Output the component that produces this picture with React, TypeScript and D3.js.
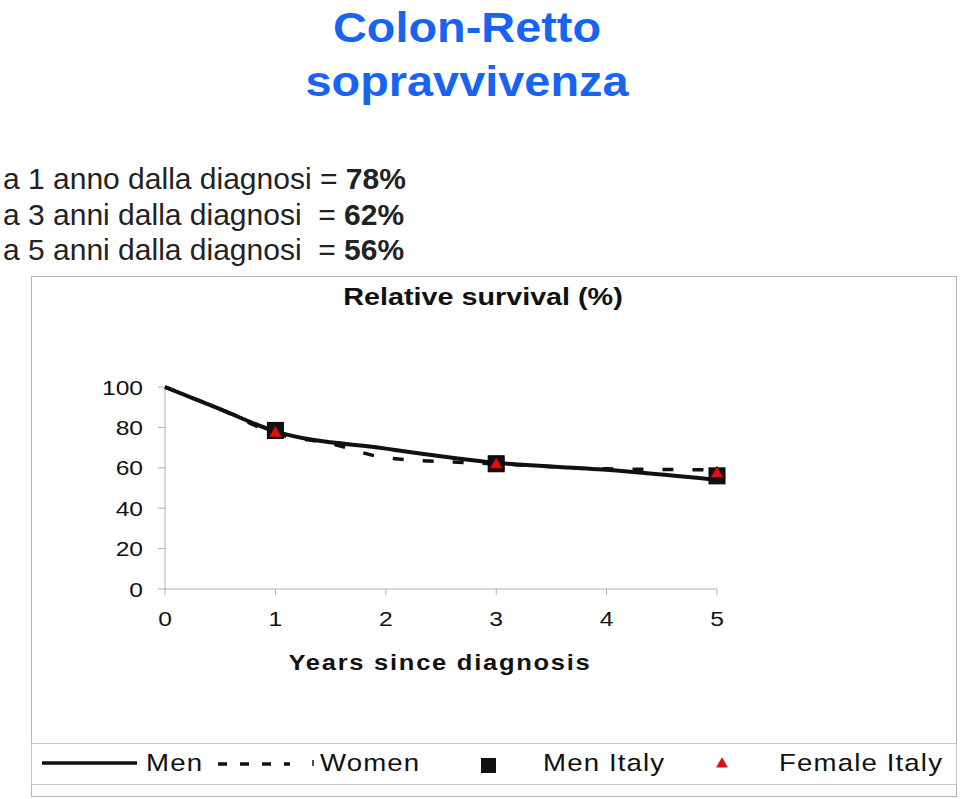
import React from "react";
import * as d3 from "d3";

const menYears = [0, 0.5, 1, 2, 3, 4, 5];
const menValues = [100, 89, 78, 69.5, 62.5, 59, 54];
const womenYears = [0, 0.5, 1, 1.5, 2, 3, 4, 5];
const womenValues = [100, 89, 77, 72, 65, 62, 59.5, 59];
const menItalyYears = [1, 3, 5];
const menItalyValues = [78.5, 62, 56];
const femaleItalyYears = [1, 3, 5];
const femaleItalyValues = [77.5, 62, 57.5];
const yTicks = [0, 20, 40, 60, 80, 100];
const xTicks = [0, 1, 2, 3, 4, 5];
const infoLines = [
  { label: "a 1 anno dalla diagnosi = ", value: "78%" },
  { label: "a 3 anni dalla diagnosi  = ", value: "62%" },
  { label: "a 5 anni dalla diagnosi  = ", value: "56%" },
];

const FONT = "'Liberation Sans', Arial, Helvetica, sans-serif";

function SText(props: {
  x: number;
  y: number;
  sx: number;
  size: number;
  anchor?: string;
  weight?: string;
  fill?: string;
  spacing?: number;
  children: React.ReactNode;
}) {
  return (
    <text
      transform={`translate(${props.x},${props.y}) scale(${props.sx},1)`}
      textAnchor={props.anchor || "start"}
      fontSize={props.size}
      fontWeight={props.weight || "normal"}
      fill={props.fill || "#111"}
      letterSpacing={props.spacing || 0}
    >
      {props.children}
    </text>
  );
}

export default function App() {
  const W = 960;
  const H = 799;
  const x = d3.scaleLinear().domain([0, 5]).range([165, 717]);
  const y = d3.scaleLinear().domain([0, 100]).range([589, 387]);
  const line = d3
    .line<[number, number]>()
    .x((d) => x(d[0]))
    .y((d) => y(d[1]))
    .curve(d3.curveMonotoneX);
  const menPts: [number, number][] = menYears.map((v, i) => [v, menValues[i]]);
  const womenPts: [number, number][] = womenYears.map((v, i) => [v, womenValues[i]]);
  const tri = d3.symbol().type(d3.symbolTriangle).size(75)() as string;
  const triLegend = d3.symbol().type(d3.symbolTriangle).size(60)() as string;
  const axisColor = "#b0b0b0";

  return (
    <svg
      width={W}
      height={H}
      style={{ position: "absolute", left: 0, top: 0, background: "#fff" }}
      fontFamily={FONT}
    >
      <rect x={0} y={0} width={W} height={H} fill="#fff" />
      {/* Titles */}
      <SText x={467} y={42} sx={1.09} size={43} anchor="middle" weight="bold" fill="#1763f2">
        Colon-Retto
      </SText>
      <SText x={467} y={96} sx={1.09} size={43} anchor="middle" weight="bold" fill="#1763f2">
        sopravvivenza
      </SText>
      {infoLines.map((l, i) => (
        <text key={i} x={3} y={189 + i * 35.5} fontSize={30} fill="#222" xmlSpace="preserve">
          {l.label}
          <tspan fontWeight="bold">{l.value}</tspan>
        </text>
      ))}

      {/* Chart frame */}
      <rect x={31.5} y={276.5} width={925} height={520} fill="none" stroke="#b5b5b5" strokeWidth={1} />
      <SText x={483} y={305} sx={1.25} size={23} anchor="middle" weight="bold">
        Relative survival (%)
      </SText>

      {/* Axes */}
      <line x1={x(0)} x2={x(0)} y1={y(100)} y2={y(0)} stroke={axisColor} />
      <line x1={x(0)} x2={x(5)} y1={y(0)} y2={y(0)} stroke={axisColor} />
      {yTicks.map((t) => (
        <g key={"y" + t}>
          <line x1={x(0) - 7} x2={x(0)} y1={y(t)} y2={y(t)} stroke={axisColor} />
          <SText x={143} y={y(t) + 7.5} sx={1.2} size={20.5} anchor="end">
            {t}
          </SText>
        </g>
      ))}
      {xTicks.map((t) => (
        <g key={"x" + t}>
          <line x1={x(t)} x2={x(t)} y1={y(0)} y2={y(0) + 6} stroke={axisColor} />
          <SText x={x(t)} y={626} sx={1.2} size={20.5} anchor="middle">
            {t}
          </SText>
        </g>
      ))}
      <SText x={440} y={670} sx={1.16} size={22} anchor="middle" weight="bold" spacing={1.5}>
        Years since diagnosis
      </SText>

      {/* Series */}
      <path d={line(womenPts) || ""} fill="none" stroke="#111" strokeWidth={3.5} strokeDasharray="11 19" />
      <path d={line(menPts) || ""} fill="none" stroke="#111" strokeWidth={4} />
      {menItalyYears.map((v, i) => (
        <rect
          key={"m" + i}
          x={x(v) - 8}
          y={y(menItalyValues[i]) - 8}
          width={16}
          height={16}
          fill="#111"
          stroke="#000"
        />
      ))}
      {femaleItalyYears.map((v, i) => (
        <path
          key={"f" + i}
          d={tri}
          transform={`translate(${x(v)},${y(femaleItalyValues[i]) + 1})`}
          fill="#e01010"
          stroke="#400"
          strokeWidth={0.8}
        />
      ))}

      {/* Legend */}
      <rect x={31.5} y={743.5} width={925} height={41} fill="none" stroke="#c8c8c8" />
      <line x1={42} x2={137} y1={763} y2={763} stroke="#111" strokeWidth={3.5} />
      <SText x={146} y={771} sx={1.15} size={24} spacing={1}>Men</SText>
      <line x1={218} x2={290} y1={764} y2={764} stroke="#111" strokeWidth={3.5} strokeDasharray="9 13" />
      <line x1={313} x2={313} y1={760} y2={766} stroke="#111" strokeWidth={1.5} />
      <SText x={320} y={771} sx={1.15} size={24} spacing={1}>Women</SText>
      <rect x={481} y={758} width={15} height={15} fill="#111" />
      <SText x={543} y={771} sx={1.15} size={24} spacing={1}>Men Italy</SText>
      <path d={triLegend} transform="translate(722,764)" fill="#e01010" />
      <SText x={779} y={771} sx={1.15} size={24} spacing={1}>Female Italy</SText>
    </svg>
  );
}
